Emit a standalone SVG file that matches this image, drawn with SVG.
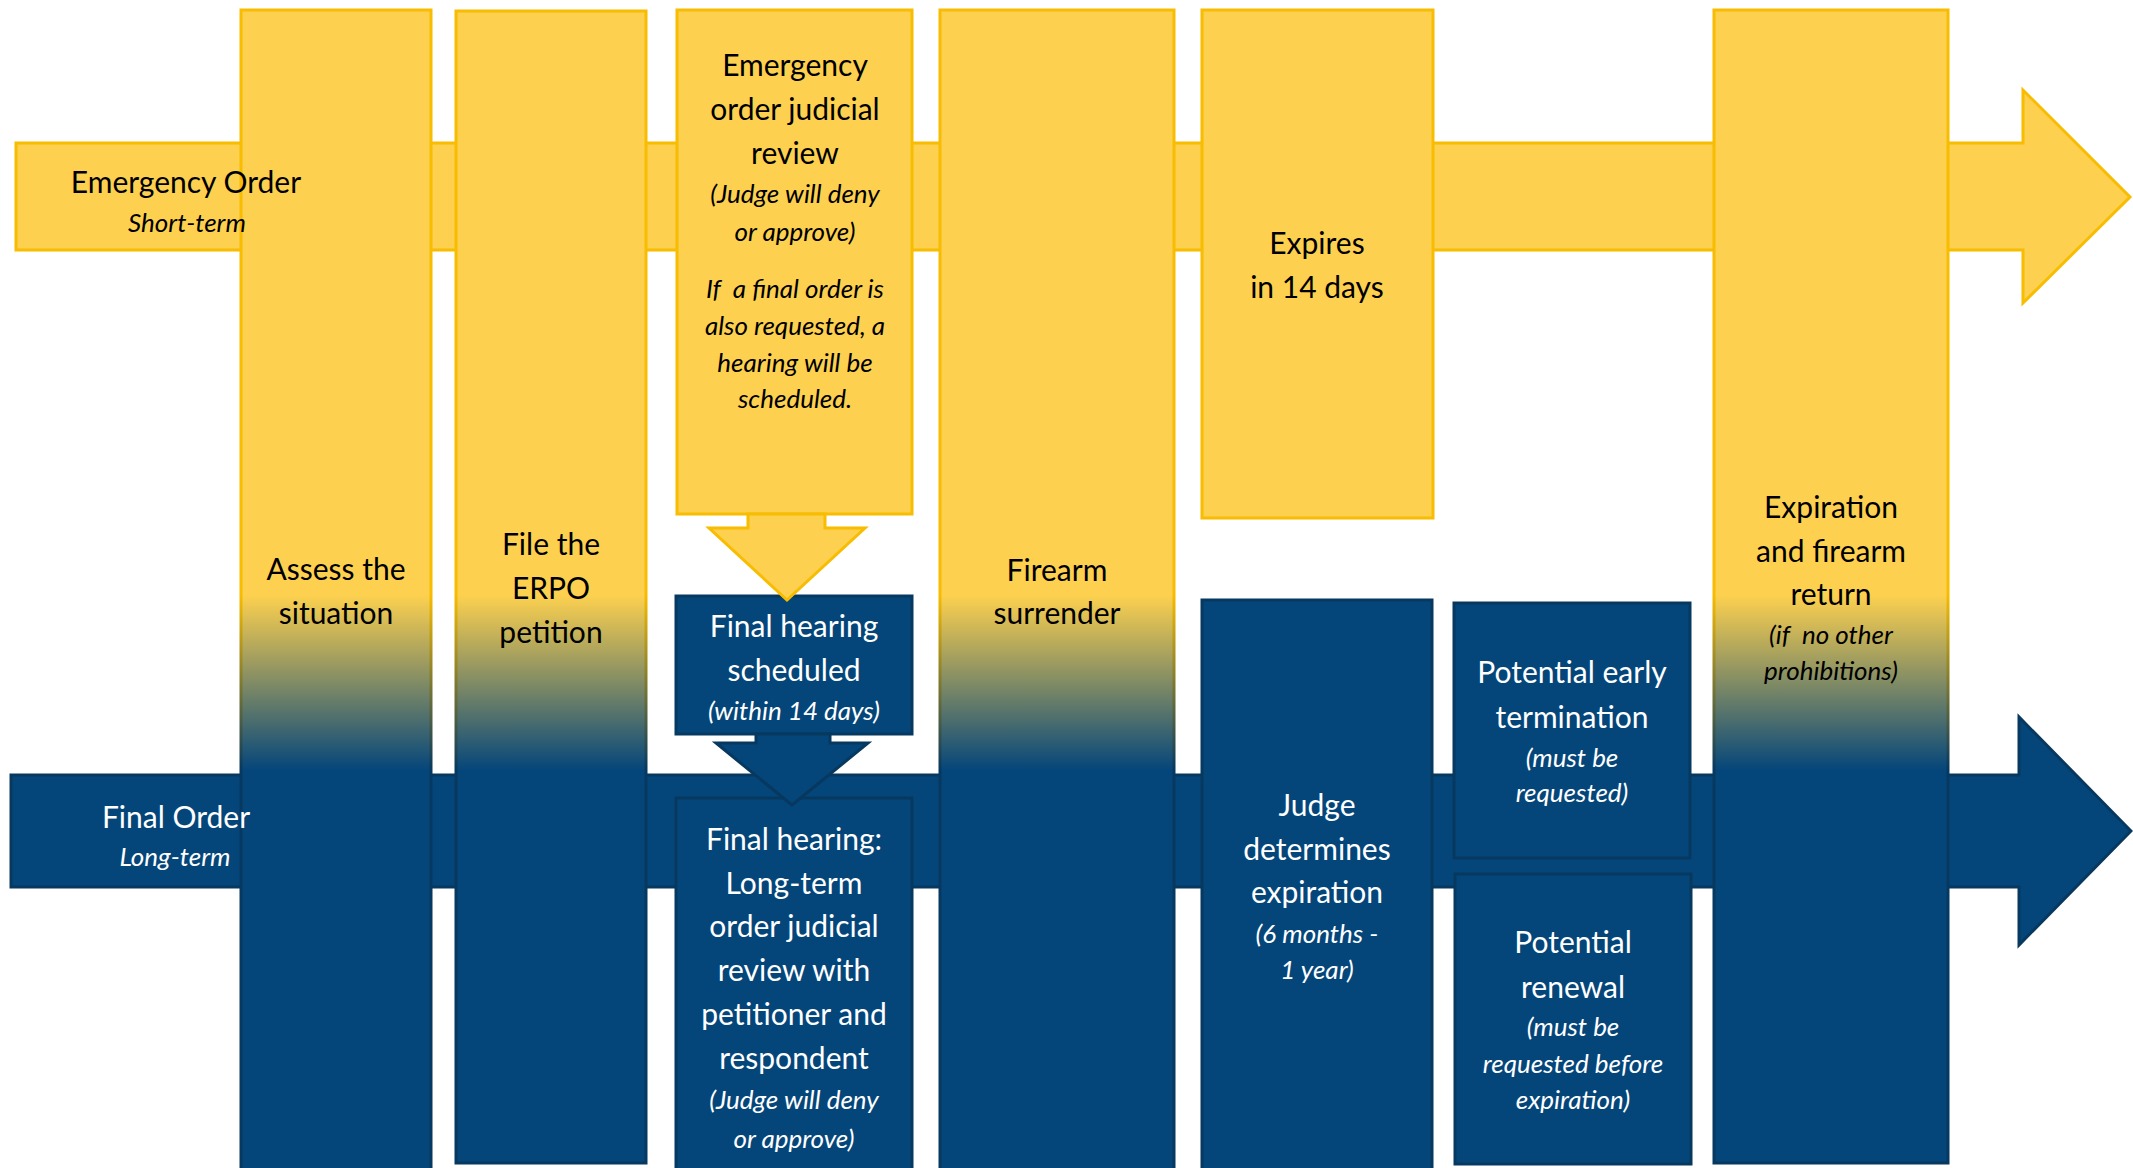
<svg xmlns="http://www.w3.org/2000/svg" width="2133" height="1168" viewBox="0 0 2133 1168">
<defs>
<linearGradient id="gF" gradientUnits="userSpaceOnUse" x1="0" y1="595" x2="0" y2="770">
<stop offset="0" stop-color="#FDD14F"/><stop offset="1" stop-color="#05467A"/>
</linearGradient>
<linearGradient id="gS" gradientUnits="userSpaceOnUse" x1="0" y1="595" x2="0" y2="770">
<stop offset="0" stop-color="#F8BC00"/><stop offset="1" stop-color="#07385F"/>
</linearGradient>
<style>
.y{fill:#FDD14F;stroke:#F8BC00;stroke-width:3}
.b{fill:#05467A;stroke:#07385F;stroke-width:3}
.g{fill:url(#gF);stroke:url(#gS);stroke-width:3}
text{font-family:Lato,"Liberation Sans",sans-serif;font-size:30px;text-anchor:middle}
.k{fill:#000}
.w{fill:#fff}
.i{font-style:italic;font-size:26px}
</style>
</defs>
<g id="lanes">
<polygon id="emergency-lane" class="y" points="16,143 2023,143 2023,90 2130,197 2023,303 2023,250 16,250"/>
<polygon id="final-lane" class="b" points="11,775 2019,775 2019,717 2131,831 2019,945 2019,887 11,887"/>
</g>
<g id="assess"><rect class="g" x="241" y="10" width="190" height="1170"/>
<text class="k"><tspan x="336" y="580">Assess the</tspan><tspan x="336" y="624">situation</tspan></text></g>
<g id="file"><rect class="g" x="456" y="11" width="190" height="1152"/>
<text class="k"><tspan x="551" y="555">File the</tspan><tspan x="551" y="599">ERPO</tspan><tspan x="551" y="643">petition</tspan></text></g>
<g id="emergency-review"><rect class="y" x="677" y="10" width="235" height="504"/>
<text class="k"><tspan x="795" y="76">Emergency</tspan><tspan x="795" y="120">order judicial</tspan><tspan x="795" y="164">review</tspan></text>
<text class="k i"><tspan x="795" y="203">(Judge will deny</tspan><tspan x="795" y="241">or approve)</tspan><tspan x="795" y="298">If&#160; a final order is</tspan><tspan x="795" y="335">also requested, a</tspan><tspan x="795" y="372">hearing will be</tspan><tspan x="795" y="408">scheduled.</tspan></text></g>
<g id="hearing-scheduled"><rect class="b" x="676" y="596" width="236" height="138"/>
<text class="w"><tspan x="794" y="637">Final hearing</tspan><tspan x="794" y="681">scheduled</tspan></text>
<text class="w i" x="794" y="720">(within 14 days)</text></g>
<g id="final-hearing"><rect class="b" x="676" y="798" width="236" height="380"/>
<text class="w"><tspan x="794" y="850">Final hearing:</tspan><tspan x="794" y="894">Long-term</tspan><tspan x="794" y="937">order judicial</tspan><tspan x="794" y="981">review with</tspan><tspan x="794" y="1025">petitioner and</tspan><tspan x="794" y="1069">respondent</tspan></text>
<text class="w i"><tspan x="794" y="1109">(Judge will deny</tspan><tspan x="794" y="1148">or approve)</tspan></text></g>
<g id="surrender"><rect class="g" x="940" y="10" width="234" height="1170"/>
<text class="k"><tspan x="1057" y="581">Firearm</tspan><tspan x="1057" y="624">surrender</tspan></text></g>
<g id="expires"><rect class="y" x="1202" y="10" width="231" height="508"/>
<text class="k"><tspan x="1317" y="254">Expires</tspan><tspan x="1317" y="298">in 14 days</tspan></text></g>
<g id="judge"><rect class="b" x="1202" y="600" width="230" height="580"/>
<text class="w"><tspan x="1317" y="816">Judge</tspan><tspan x="1317" y="860">determines</tspan><tspan x="1317" y="903">expiration</tspan></text>
<text class="w i"><tspan x="1317" y="943">(6 months -</tspan><tspan x="1317" y="979">1 year)</tspan></text></g>
<g id="early-termination"><rect class="b" x="1454" y="603" width="236" height="255"/>
<text class="w"><tspan x="1572" y="683">Potential early</tspan><tspan x="1572" y="728">termination</tspan></text>
<text class="w i"><tspan x="1572" y="767">(must be</tspan><tspan x="1572" y="802">requested)</tspan></text></g>
<g id="renewal"><rect class="b" x="1455" y="874" width="236" height="290"/>
<text class="w"><tspan x="1573" y="953">Potential</tspan><tspan x="1573" y="998">renewal</tspan></text>
<text class="w i"><tspan x="1573" y="1036">(must be</tspan><tspan x="1573" y="1073">requested before</tspan><tspan x="1573" y="1109">expiration)</tspan></text></g>
<g id="expiration"><rect class="g" x="1714" y="10" width="234" height="1153"/>
<text class="k"><tspan x="1831" y="518">Expiration</tspan><tspan x="1831" y="562">and firearm</tspan><tspan x="1831" y="605">return</tspan></text>
<text class="k i"><tspan x="1831" y="644">(if&#160; no other</tspan><tspan x="1831" y="680">prohibitions)</tspan></text></g>
<g id="connectors">
<polygon class="y" points="748,514 825,514 825,528 865,528 787,600 709,528 748,528"/>
<polygon class="b" points="756,734 830,734 830,743 868,743 792,805 716,743 756,743"/>
</g>
<g id="lane-labels">
<text class="k" x="186" y="193">Emergency Order</text>
<text class="k i" x="187" y="232">Short-term</text>
<text class="w" x="176" y="828">Final Order</text>
<text class="w i" x="175" y="866">Long-term</text>
</g>
</svg>
